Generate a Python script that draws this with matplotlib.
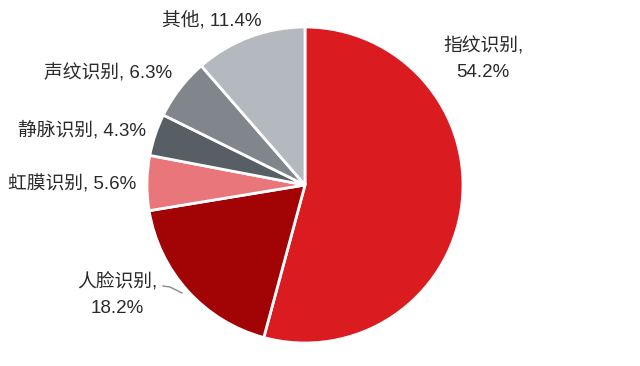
import matplotlib.pyplot as plt

plt.rcParams['font.family'] = ['Liberation Sans', 'Noto Sans CJK SC', 'DejaVu Sans']

labels = ['指纹识别', '人脸识别', '虹膜识别', '静脉识别', '声纹识别', '其他']
shares = [54.2, 18.2, 5.6, 4.3, 6.3, 11.4]
colors = ['#DA1C20', '#A20406', '#E8767A', '#575E64', '#80868C', '#B4B9BF']

# label text placement in pixel coords (x, y from top), separator
label_pos = [(483, 59, '\n'), (117, 295, '\n'), (72, 184, ' '), (82, 130, ' '),
             (108, 73, ' '), (212, 20, ' ')]

fig = plt.figure(figsize=(6.4, 3.66), dpi=100)
ax = fig.add_axes([0, 0, 1, 1])

ax.pie(shares, colors=colors, startangle=90, counterclock=False,
       center=(305, 366 - 185), radius=158,
       wedgeprops=dict(edgecolor='white', linewidth=2), frame=True)
ax.set_xlim(0, 640)
ax.set_ylim(0, 366)
ax.set_aspect('equal')
ax.axis('off')

for lab, val, (x, y, sep) in zip(labels, shares, label_pos):
    ax.text(x, 366 - y, f'{lab},{sep}{val:.1f}%', ha='center', va='center',
            fontsize=13.5, fontweight='medium', color='#2a2a2a', linespacing=1.6)

# leader line for 人脸识别
ax.plot([163, 170, 182], [366 - 286, 366 - 287, 366 - 293], color='#8A8A8A', lw=1)

fig.savefig('out.png', dpi=100)
